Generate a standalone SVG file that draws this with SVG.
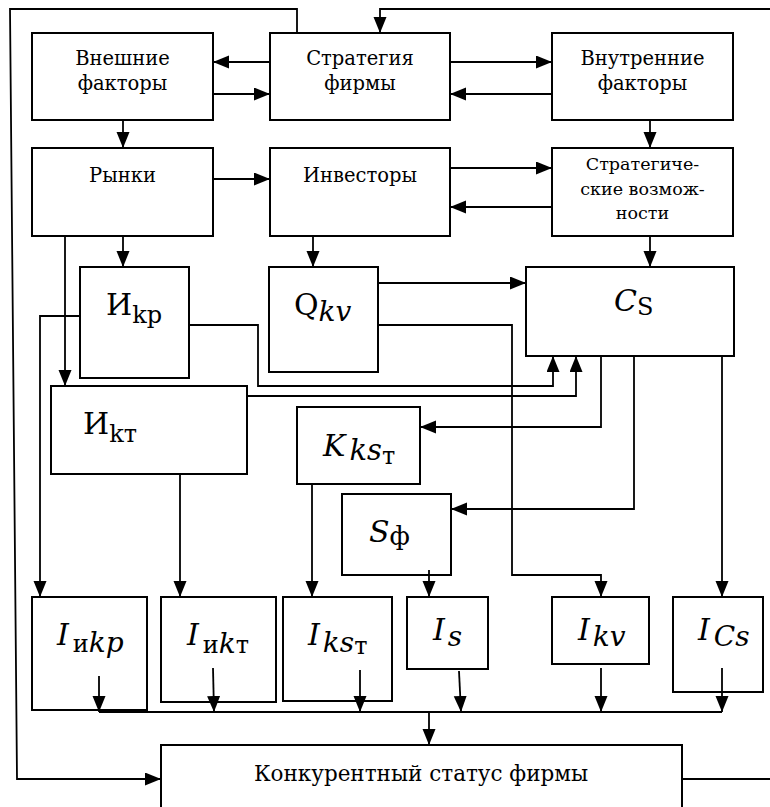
<svg xmlns="http://www.w3.org/2000/svg" width="770" height="807" viewBox="0 0 770 807">
<style>
.box{fill:#fff;stroke:#000;stroke-width:2}
.ln{fill:none;stroke:#000;stroke-width:1.8}
text{font-family:"DejaVu Serif",serif;fill:#000}
.t,.ts,.tb{text-anchor:middle}
.t{font-size:19.5px}
.ts{font-size:17.5px}
.tb{font-size:21.5px}
.m{font-size:30px}
.i{font-style:italic}
</style>
<defs>
<marker id="ah" markerUnits="userSpaceOnUse" markerWidth="17" markerHeight="14" refX="16" refY="6.5" orient="auto">
<path d="M0,0 L16,6.5 L0,13 z" fill="#000"/>
</marker>
</defs>

<g id="vneshnie"><rect class="box" x="32" y="33" width="181" height="87"/><text class="t" x="122.5" y="65">Внешние</text><text class="t" x="122.5" y="90">факторы</text></g>
<g id="strategiya"><rect class="box" x="270" y="33" width="180" height="87"/><text class="t" x="360" y="65">Стратегия</text><text class="t" x="360" y="90">фирмы</text></g>
<g id="vnutrennie"><rect class="box" x="552" y="33" width="181" height="87"/><text class="t" x="642.5" y="65">Внутренние</text><text class="t" x="642.5" y="90">факторы</text></g>

<g id="rynki"><rect class="box" x="32" y="148" width="181" height="88"/><text class="t" x="122.5" y="182">Рынки</text></g>
<g id="investory"><rect class="box" x="270" y="148" width="180" height="88"/><text class="t" x="360" y="182">Инвесторы</text></g>
<g id="strat-vozm"><rect class="box" x="552" y="148" width="181" height="88"/><text class="ts" x="642.5" y="170">Стратегиче-</text><text class="ts" x="642.5" y="195">ские возмож-</text><text class="ts" x="642.5" y="219">ности</text></g>

<g id="ikp"><rect class="box" x="80" y="267" width="109" height="111"/><text class="m" x="106" y="315">И<tspan font-size="24" dy="8">kр</tspan></text></g>
<g id="qkv"><rect class="box" x="269" y="267" width="109" height="105"/><text class="m" x="294" y="315">Q<tspan class="i" font-size="28" dy="6">kv</tspan></text></g>
<g id="cs"><rect class="box" x="526" y="267" width="208" height="89"/><text class="m" x="614" y="311"><tspan class="i">C</tspan><tspan font-size="24" dy="4">S</tspan></text></g>

<g id="ikt"><rect class="box" x="51" y="386" width="196" height="88"/><text class="m" x="83" y="434">И<tspan font-size="24" dy="8">kт</tspan></text></g>
<g id="kks"><rect class="box" x="297" y="407" width="123" height="77"/><text class="m" x="323" y="456"><tspan class="i">K</tspan><tspan class="i" font-size="29" dx="4" dy="4">ks</tspan><tspan font-size="24" dy="4">т</tspan></text></g>
<g id="sf"><rect class="box" x="342" y="494" width="109" height="81"/><text class="m" x="369" y="542"><tspan class="i">S</tspan><tspan font-size="26" dy="3">ф</tspan></text></g>

<g id="i-ikp"><rect class="box" x="32" y="597" width="115" height="113"/><text class="m" x="57" y="645"><tspan class="i">I</tspan><tspan font-size="24" dx="4" dy="7">и</tspan><tspan class="i" font-size="28">kp</tspan></text></g>
<g id="i-ikt"><rect class="box" x="161" y="597" width="115" height="105"/><text class="m" x="187" y="645"><tspan class="i">I</tspan><tspan font-size="24" dx="4" dy="8">и</tspan><tspan class="i" font-size="28">k</tspan><tspan font-size="24">т</tspan></text></g>
<g id="i-kst"><rect class="box" x="283" y="597" width="109" height="104"/><text class="m" x="308" y="645"><tspan class="i">I</tspan><tspan class="i" font-size="28" dx="3" dy="7">ks</tspan><tspan font-size="24" dy="2">т</tspan></text></g>
<g id="i-s"><rect class="box" x="407" y="597" width="81" height="72"/><text class="m" x="433" y="640"><tspan class="i">I</tspan><tspan class="i" font-size="28" dx="3" dy="6">s</tspan></text></g>
<g id="i-kv"><rect class="box" x="552" y="597" width="97" height="67"/><text class="m" x="578" y="640"><tspan class="i">I</tspan><tspan class="i" font-size="28" dx="3" dy="6">kv</tspan></text></g>
<g id="i-cs"><rect class="box" x="673" y="597" width="90" height="95"/><text class="m" x="698" y="640"><tspan class="i">I</tspan><tspan class="i" font-size="28" dx="4" dy="6">Cs</tspan></text></g>

<g id="konkur"><rect class="box" x="161" y="745" width="521" height="80"/><text class="tb" x="421" y="781">Конкурентный статус фирмы</text></g>

<g id="connectors">
<path class="ln" d="M297,33 L297,9 L10,9 L17,779 L161,779" marker-end="url(#ah)"/>
<path class="ln" d="M682,779 L775,779 L775,9 L380,9 L380,33" marker-end="url(#ah)"/>
<path class="ln" d="M270,62 L213,62" marker-end="url(#ah)"/>
<path class="ln" d="M213,94 L270,94" marker-end="url(#ah)"/>
<path class="ln" d="M450,62 L552,62" marker-end="url(#ah)"/>
<path class="ln" d="M552,94 L450,94" marker-end="url(#ah)"/>
<path class="ln" d="M123,120 L123,148" marker-end="url(#ah)"/>
<path class="ln" d="M650,120 L650,148" marker-end="url(#ah)"/>
<path class="ln" d="M213,179 L270,179" marker-end="url(#ah)"/>
<path class="ln" d="M450,168 L552,168" marker-end="url(#ah)"/>
<path class="ln" d="M552,207 L450,207" marker-end="url(#ah)"/>
<path class="ln" d="M123,236 L123,267" marker-end="url(#ah)"/>
<path class="ln" d="M313,236 L313,267" marker-end="url(#ah)"/>
<path class="ln" d="M650,236 L650,267" marker-end="url(#ah)"/>
<path class="ln" d="M378,283 L526,283" marker-end="url(#ah)"/>
<path class="ln" d="M65,236 L65,386" marker-end="url(#ah)"/>
<path class="ln" d="M80,316 L40,316 L40,597" marker-end="url(#ah)"/>
<path class="ln" d="M189,325 L258,325 L258,386 L553,386 L553,356" marker-end="url(#ah)"/>
<path class="ln" d="M247,396 L576,396 L576,356" marker-end="url(#ah)"/>
<path class="ln" d="M378,325 L512,325 L512,575 L601,575 L601,597" marker-end="url(#ah)"/>
<path class="ln" d="M601,356 L601,427 L420,427" marker-end="url(#ah)"/>
<path class="ln" d="M634,356 L634,509 L451,509" marker-end="url(#ah)"/>
<path class="ln" d="M722,356 L722,597" marker-end="url(#ah)"/>
<path class="ln" d="M312,484 L312,597" marker-end="url(#ah)"/>
<path class="ln" d="M429,570 L429,597" marker-end="url(#ah)"/>
<path class="ln" d="M180,474 L180,597" marker-end="url(#ah)"/>
<path class="ln" d="M99,676 L99,712" marker-end="url(#ah)"/>
<path class="ln" d="M213,668 L214,712" marker-end="url(#ah)"/>
<path class="ln" d="M360,670 L360,712" marker-end="url(#ah)"/>
<path class="ln" d="M459,671 L461,712" marker-end="url(#ah)"/>
<path class="ln" d="M601,668 L601,712" marker-end="url(#ah)"/>
<path class="ln" d="M722,668 L722,712" marker-end="url(#ah)"/>
<path class="ln" d="M99,712 L722,712"/>
<path class="ln" d="M429,712 L429,745" marker-end="url(#ah)"/>
</g>
</svg>
